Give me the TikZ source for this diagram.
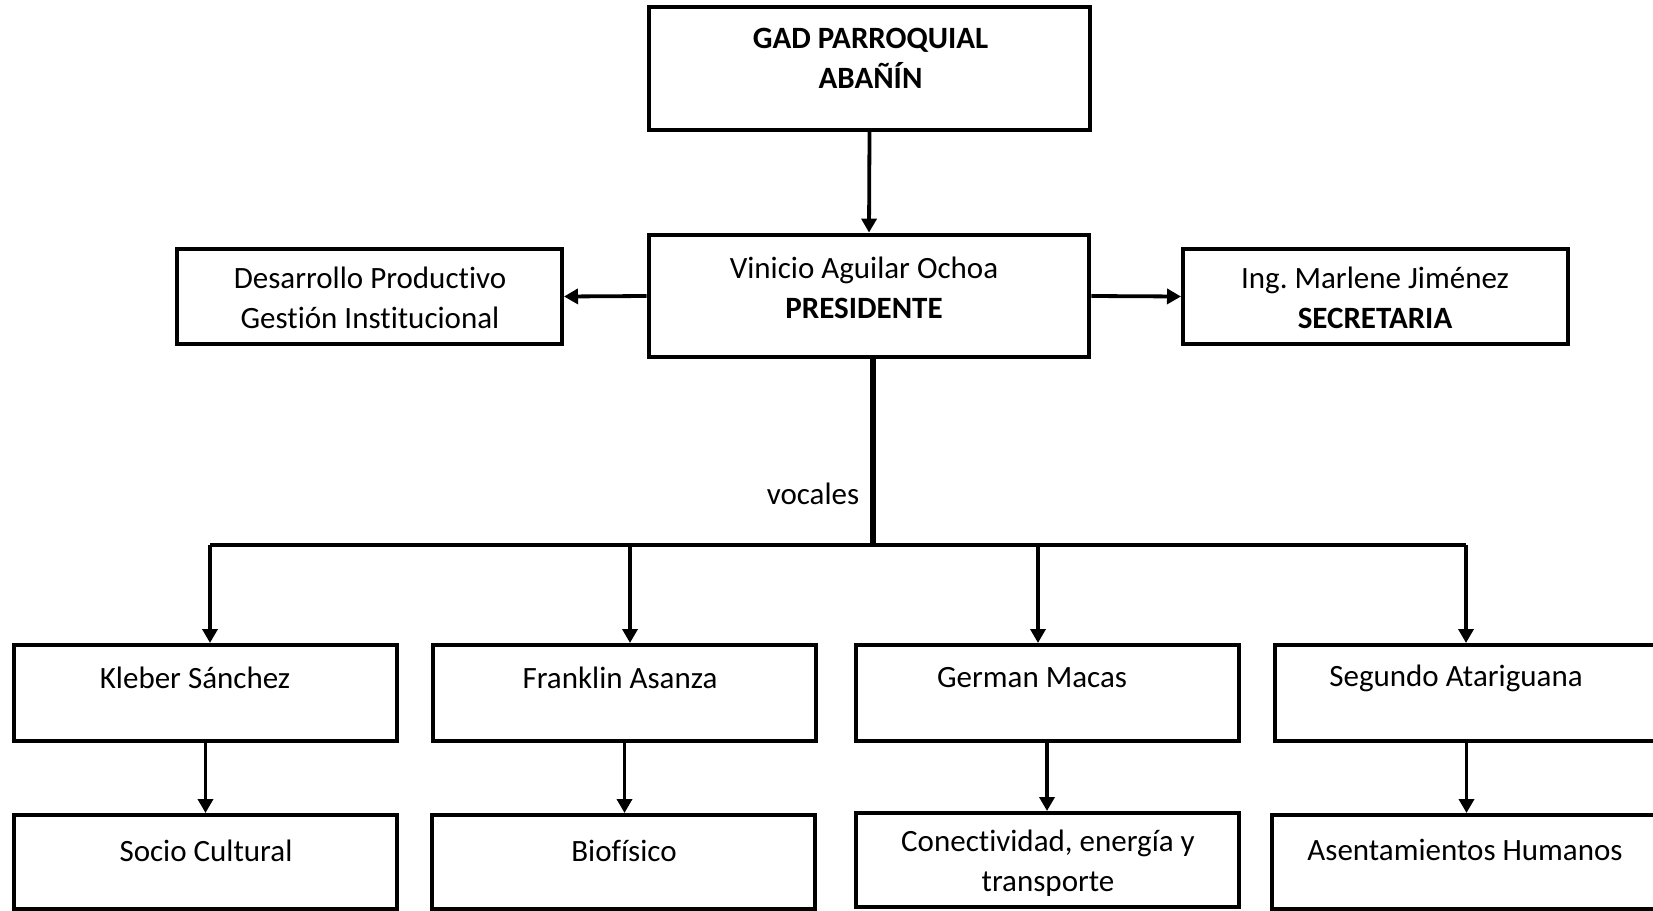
\documentclass[tikz,border=0pt]{standalone}
\usepackage{fontspec}
\setmainfont[Ligatures=NoCommon]{Carlito}
\usetikzlibrary{arrows.meta}

\tikzset{every picture/.style={line width=0.75pt}}
\tikzset{
  box/.style={draw, rectangle, line width=2pt, inner sep=0pt},
  txt/.style={align=center, font=\fontsize{15.5pt}{20pt}\selectfont, inner sep=0pt},
  arr/.style={line width=1.9pt, -{Triangle[length=7pt,width=7.5pt]}},
}

\begin{document}
\frenchspacing
\begin{tikzpicture}[x=0.5pt,y=0.5pt,yscale=-1,xscale=1]
	%set diagram size to the page: 1653 wide, 910 high
	\useasboundingbox (0,0) rectangle (1653,910);

	%Shape: Rectangle [GAD]
	\node [box, minimum width=220.5pt, minimum height=61.5pt] (gad) at (869.5,68.5) {};
	%Shape: Rectangle [president]
	\node [box, line width=2.4pt, minimum width=220pt, minimum height=61pt] (pres) at (869,296) {};
	%Shape: Rectangle [left]
	\node [box, minimum width=192.5pt, minimum height=47.5pt] (dev) at (369.5,296.5) {};
	%Shape: Rectangle [right]
	\node [box, minimum width=192.5pt, minimum height=47.5pt] (sec) at (1375.5,296.5) {};

	%Shape: Rectangle [vocales row]
	\node [box, minimum width=191.5pt, minimum height=48pt] (kle) at (205.5,693) {};
	\node [box, minimum width=191.5pt, minimum height=48pt] (fra) at (624.5,693) {};
	\node [box, minimum width=191.5pt, minimum height=48pt] (ger) at (1047,693) {};
	\node [box, minimum width=191.5pt, minimum height=48pt] (seg) at (1466.5,693) {};
	%Shape: Rectangle [bottom row]
	\node [box, minimum width=191.5pt, minimum height=47pt] (soc) at (205.5,862) {};
	\node [box, minimum width=191.5pt, minimum height=47pt] (bio) at (623,862) {};
	\node [box, minimum width=191.5pt, minimum height=47pt] (con) at (1047,860) {};
	\node [box, minimum width=191.5pt, minimum height=47pt] (ase) at (1463.5,862) {};

	%Straight Lines
	\draw [arr] (gad.south) -- (pres.north) ;
	\draw [arr] (pres.west) -- (dev.east) ;
	\draw [arr] (pres.east) -- (sec.east -| sec.west) ;

	%Straight Lines [bus]
	\coordinate (hub) at (873,545);
	\coordinate (bus1) at (210,545);
	\coordinate (bus2) at (630,545);
	\coordinate (bus3) at (1038,545);
	\coordinate (bus4) at (1466,545);
	\draw [line width=2.8pt] (pres.south -| hub) -- (hub) ;
	\draw [line width=1.9pt] (bus1) -- (bus4) ;
	\draw [arr] (bus1) -- (bus1 |- kle.north) ;
	\draw [arr] (bus2) -- (bus2 |- fra.north) ;
	\draw [arr] (bus3) -- (bus3 |- ger.north) ;
	\draw [arr] (bus4) -- (bus4 |- seg.north) ;

	%Straight Lines [down]
	\draw [arr] (kle.south) -- (kle.south |- soc.north) ;
	\draw [arr] (fra.south) -- (fra.south |- bio.north) ;
	\draw [arr] (ger.south) -- (ger.south |- con.north) ;
	\draw [arr] (seg.south) -- (seg.south |- ase.north) ;

	% Text Node
	\node [txt] (gadtxt) at (870.5,58) {\textbf{GAD PARROQUIAL}\\\textbf{ABAÑÍN}};
	% Text Node
	\node [txt] (prestxt) at (864,288) {Vinicio Aguilar Ochoa\\\textbf{PRESIDENTE}};
	% Text Node
	\node [txt] (devtxt) at (370,298) {Desarrollo Productivo\\Gestión Institucional};
	% Text Node
	\node [txt] (sectxt) at (1375,298) {Ing. Marlene Jiménez\\\textbf{SECRETARIA}};
	% Text Node
	\node [txt] (voc) at (813,494) {vocales};
	% Text Node
	\node [txt] (kletxt) at (195,678) {Kleber Sánchez};
	% Text Node
	\node [txt] (fratxt) at (620,678) {Franklin Asanza};
	% Text Node
	\node [txt] (gertxt) at (1032,678) {German Macas};
	% Text Node
	\node [txt] (segtxt) at (1456,678) {Segundo Atariguana};
	% Text Node
	\node [txt] (soctxt) at (206,851) {Socio Cultural};
	% Text Node
	\node [txt] (biotxt) at (624,851) {Biofísico};
	% Text Node
	\node [txt] (contxt) at (1048,863) {Conectividad, energía y\\transporte};
	% Text Node
	\node [txt] (asetxt) at (1465,850) {Asentamientos Humanos};

\end{tikzpicture}
\end{document}
